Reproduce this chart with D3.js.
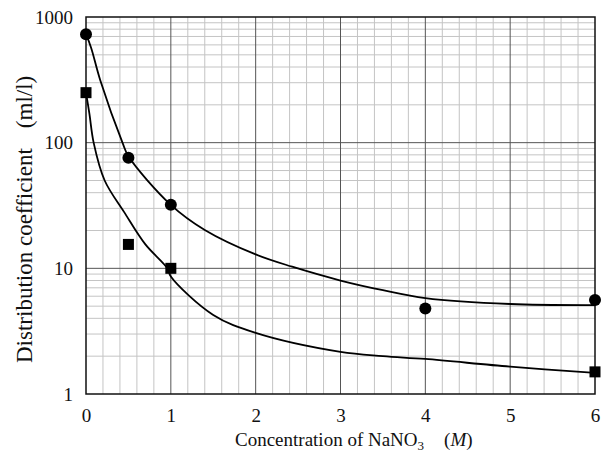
<!DOCTYPE html>
<html><head><meta charset="utf-8">
<script src="https://cdn.jsdelivr.net/npm/d3@7"></script>
<style>body{margin:0;background:#fff}svg{display:block}</style>
</head><body><svg id="c" width="601" height="453"></svg>
<script>
const FONT = "'Liberation Serif', 'Times New Roman', serif";
// Data
const circleX = [0, 0.5, 1, 4, 6];
const circleY = [730, 76, 32, 4.8, 5.6];
const squareX = [0, 0.5, 1, 6];
const squareY = [250, 15.5, 10, 1.5];
// Fitted curves
const upperCurveX = [0, 0.06, 0.17, 0.43, 0.5, 1, 1.4, 2, 2.43, 3, 3.5, 4, 5, 6];
const upperCurveY = [730, 570, 311, 100, 78, 32, 20.2, 12.9, 10.3, 8.0, 6.7, 5.8, 5.2, 5.1];
const lowerCurveX = [0, 0.04, 0.09, 0.22, 0.45, 0.7, 0.96, 1, 1.5, 2, 3, 3.5, 4, 5, 6];
const lowerCurveY = [250, 170, 100, 50, 28, 15.5, 10, 8.6, 4.25, 3.06, 2.16, 2.0, 1.9, 1.65, 1.47];
const xTicks = [0, 1, 2, 3, 4, 5, 6];
const yTicks = [1, 10, 100, 1000];

const m = {l: 86, t: 17, r: 6, b: 59};
const W = 601, H = 453;
const svg = d3.select("#c");
const x = d3.scaleLinear().domain([0, 6]).range([m.l, W - m.r]);
const y = d3.scaleLog().domain([1, 1000]).range([H - m.b, m.t]);

const g = svg.append("g");
const minorX = d3.range(0, 6.0001, 0.2).filter(v => Math.abs(v - Math.round(v)) > 1e-6);
g.selectAll(".mvx").data(minorX).enter().append("line")
  .attr("x1", d => x(d)).attr("x2", d => x(d)).attr("y1", y(1)).attr("y2", y(1000))
  .attr("stroke", "#c4c4c4").attr("stroke-width", 1);
const minorY = [];
[1, 10, 100].forEach(dec => { for (let k = 2; k <= 9; k++) minorY.push(dec * k); });
g.selectAll(".mhy").data(minorY).enter().append("line")
  .attr("x1", x(0)).attr("x2", x(6)).attr("y1", d => y(d)).attr("y2", d => y(d))
  .attr("stroke", "#c4c4c4").attr("stroke-width", 1);
g.selectAll(".Mx").data(xTicks.slice(1, -1)).enter().append("line")
  .attr("x1", d => x(d)).attr("x2", d => x(d)).attr("y1", y(1)).attr("y2", y(1000))
  .attr("stroke", "#555").attr("stroke-width", 1);
g.selectAll(".My").data(yTicks.slice(1, -1)).enter().append("line")
  .attr("x1", x(0)).attr("x2", x(6)).attr("y1", d => y(d)).attr("y2", d => y(d))
  .attr("stroke", "#555").attr("stroke-width", 1);
g.append("rect").attr("x", x(0)).attr("y", y(1000)).attr("width", x(6) - x(0)).attr("height", y(1) - y(1000))
  .attr("fill", "none").attr("stroke", "#111").attr("stroke-width", 1.5);

const xAxis = d3.axisBottom(x).tickValues(xTicks).tickSize(0).tickPadding(15).tickFormat(d3.format("d"));
const xa = svg.append("g").attr("transform", `translate(0,${y(1)})`).call(xAxis)
  .attr("font-family", FONT).attr("font-size", 19);
xa.select(".domain").remove();
xa.selectAll("text").attr("fill", "#111");
const yAxis = d3.axisLeft(y).tickValues(yTicks).tickSize(0).tickPadding(13).tickFormat(d3.format("d"));
const ya = svg.append("g").attr("transform", `translate(${x(0)},0)`).call(yAxis)
  .attr("font-family", FONT).attr("font-size", 19);
ya.select(".domain").remove();
ya.selectAll("text").attr("fill", "#111");

const line = d3.line().x(d => x(d[0])).y(d => y(d[1])).curve(d3.curveCatmullRom.alpha(0.5));
svg.append("path").datum(upperCurveX.map((v, i) => [v, upperCurveY[i]]))
  .attr("d", line).attr("fill", "none").attr("stroke", "#000").attr("stroke-width", 1.8);
svg.append("path").datum(lowerCurveX.map((v, i) => [v, lowerCurveY[i]]))
  .attr("d", line).attr("fill", "none").attr("stroke", "#000").attr("stroke-width", 1.8);

svg.selectAll(".circ").data(circleX.map((v, i) => [v, circleY[i]])).enter().append("circle")
  .attr("cx", d => x(d[0])).attr("cy", d => y(d[1])).attr("r", 6).attr("fill", "#000");
const s = 11;
svg.selectAll(".sq").data(squareX.map((v, i) => [v, squareY[i]])).enter().append("rect")
  .attr("x", d => x(d[0]) - s / 2).attr("y", d => y(d[1]) - s / 2).attr("width", s).attr("height", s).attr("fill", "#000");

const xt = svg.append("text").attr("x", 235).attr("y", 446)
  .attr("font-family", FONT).attr("font-size", 19).attr("fill", "#111");
xt.append("tspan").text("Concentration of NaNO");
xt.append("tspan").attr("dy", 4).attr("font-size", 13).text("3");
xt.append("tspan").attr("dy", -4).attr("dx", 20).text("(");
xt.append("tspan").attr("font-style", "italic").text("M");
xt.append("tspan").text(")");

const yt = svg.append("text").attr("transform", `translate(32,363) rotate(-90)`)
  .attr("font-family", FONT).attr("font-size", 23).attr("fill", "#111");
yt.append("tspan").text("Distribution coefficient");
yt.append("tspan").attr("dx", 20).text("(ml/l)");
</script></body></html>
